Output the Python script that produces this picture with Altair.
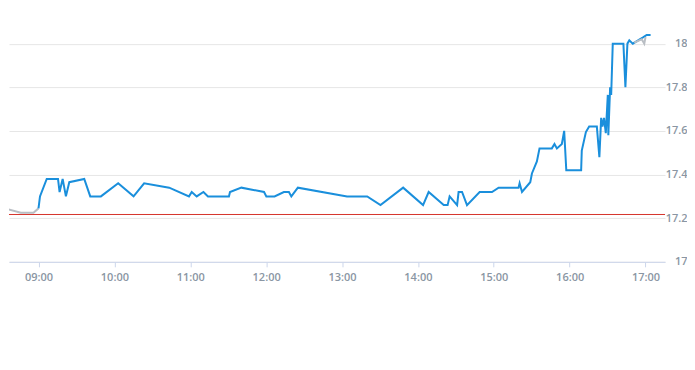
import altair as alt
import pandas as pd

DAY = "2024-01-02T"

# Regular session (blue)
blue_times = [
    "09:00:00", "09:01:10", "09:06:30", "09:12:30", "09:15:25", "09:16:40", "09:19:05",
    "09:21:40", "09:24:20", "09:36:10", "09:40:55", "09:49:20", "10:03:00", "10:15:10",
    "10:23:30", "10:43:20", "10:59:00", "11:01:10", "11:05:05", "11:10:25", "11:14:00",
    "11:30:35", "11:31:25", "11:40:25", "11:58:20", "12:00:10", "12:06:40", "12:14:00",
    "12:18:00", "12:19:55", "12:25:05", "13:04:00", "13:19:55", "13:30:25", "13:48:20",
    "14:04:05", "14:08:30", "14:20:25", "14:23:30", "14:25:05", "14:31:00", "14:32:10",
    "14:34:55", "14:38:50", "14:48:50", "14:58:35", "15:03:50", "15:19:35", "15:20:25",
    "15:22:20", "15:28:50", "15:30:10", "15:34:05", "15:36:10", "15:45:55", "15:48:00",
    "15:49:55", "15:53:50", "15:55:40", "15:57:20", "16:09:05", "16:09:35", "16:12:50",
    "16:15:25", "16:21:30", "16:23:30", "16:24:55", "16:25:55", "16:27:10", "16:28:35",
    "16:30:10", "16:30:35", "16:32:00", "16:32:50", "16:34:05", "16:42:30", "16:44:05",
    "16:45:40", "16:47:10", "16:49:55", "16:58:20", "17:00:55", "17:04:00",
]
blue_prices = [
    17.245, 17.30, 17.38, 17.38, 17.38, 17.32, 17.38,
    17.30, 17.365, 17.38, 17.30, 17.30, 17.36, 17.30,
    17.36, 17.34, 17.30, 17.32, 17.30, 17.32, 17.30,
    17.30, 17.32, 17.34, 17.32, 17.30, 17.30, 17.32,
    17.32, 17.30, 17.34, 17.30, 17.30, 17.26, 17.34,
    17.26, 17.32, 17.26, 17.26, 17.30, 17.26, 17.32,
    17.32, 17.26, 17.32, 17.32, 17.34, 17.34, 17.36,
    17.32, 17.365, 17.405, 17.46, 17.52, 17.52, 17.54,
    17.52, 17.54, 17.60, 17.42, 17.42, 17.51, 17.595,
    17.62, 17.62, 17.48, 17.66, 17.62, 17.66, 17.59,
    17.765, 17.58, 17.80, 17.765, 18.00, 18.00, 17.80,
    18.00, 18.015, 18.00, 18.03, 18.04, 18.04,
]

# Pre-market (gray)
pre_times = ["08:30:00", "08:46:00", "08:56:00", "09:00:00"]
pre_prices = [17.25, 17.225, 17.225, 17.245]

# After-hours (gray)
post_times = ["16:51:00", "16:57:00", "16:59:00", "17:00:00"]
post_prices = [18.005, 18.02, 18.0, 18.03]

prev_close = 17.217

y_ticks = [17.0, 17.2, 17.4, 17.6, 17.8, 18.0]
x_tick_hours = [9, 10, 11, 12, 13, 14, 15, 16, 17]

BLUE = "#1a8fdc"
GRAY = "#b9bec4"
RED = "#d6342c"
LABEL = "#8a96a3"
AXIS = "#ccd6eb"
GRID = "#e6e6e6"
FONT = "Open Sans"


def frame(times, prices):
    return pd.DataFrame({"t": [DAY + t for t in times], "price": prices})


blue_df = frame(blue_times, blue_prices)
pre_df = frame(pre_times, pre_prices)
post_df = frame(post_times, post_prices)
rule_df = pd.DataFrame({"price": [prev_close]})


def dt(h, m=0, s=0):
    return alt.DateTime(year=2024, month=1, date=2, hours=h, minutes=m, seconds=s)


x_scale = alt.Scale(domain=[dt(8, 36, 40), dt(17, 15, 25)])
y_scale = alt.Scale(domain=[17.0, 18.1625], nice=False, zero=False)

x_axis = alt.Axis(
    title=None, format="%H:%M", values=[dt(h) for h in x_tick_hours],
    grid=False, domain=True, domainColor=AXIS, domainWidth=1,
    ticks=True, tickColor=AXIS, tickSize=5, labelPadding=5,
    labelColor=LABEL, labelFont=FONT, labelFontSize=11, labelFontWeight=600,
)
y_axis = alt.Axis(
    title=None, orient="right", values=y_ticks, format="~g",
    grid=True, gridColor=GRID, domain=False, ticks=False,
    labelAlign="right", labelBaseline="middle", labelPadding=22,
    labelColor=LABEL, labelFont=FONT, labelFontSize=11, labelFontWeight=600,
)

base_x = alt.X("t:T", scale=x_scale, axis=x_axis)
base_y = alt.Y("price:Q", scale=y_scale, axis=y_axis)

pre_line = alt.Chart(pre_df).mark_line(color=GRAY, strokeWidth=2, clip=True).encode(
    x=base_x, y=base_y
)
post_line = alt.Chart(post_df).mark_line(color=GRAY, strokeWidth=2, clip=True).encode(
    x=alt.X("t:T", scale=x_scale), y=alt.Y("price:Q", scale=y_scale)
)
rule = alt.Chart(rule_df).mark_rule(color=RED, strokeWidth=1).encode(
    y=alt.Y("price:Q", scale=y_scale)
)
blue_line = alt.Chart(blue_df).mark_line(color=BLUE, strokeWidth=2, clip=True).encode(
    x=alt.X("t:T", scale=x_scale), y=alt.Y("price:Q", scale=y_scale)
)

chart = alt.layer(pre_line, rule, blue_line, post_line).properties(
    width=657, height=254, padding=0
).configure_view(stroke=None)

chart.save("out.html", embed_options={"renderer": "svg", "actions": False})
